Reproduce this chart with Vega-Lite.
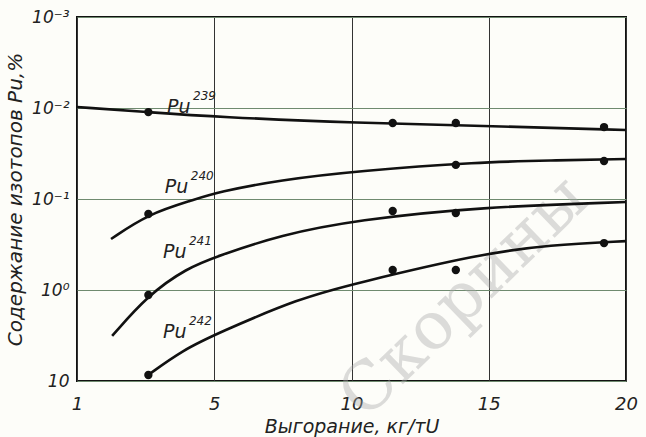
{
  "$schema": "https://vega.github.io/schema/vega-lite/v6.json",
  "width": 549,
  "height": 364,
  "autosize": "none",
  "padding": {"left": 77, "top": 17, "right": 20, "bottom": 56},
  "background": "#fdfdf9",
  "config": {
    "view": {"stroke": "#111", "strokeWidth": 2},
    "font": "DejaVu Sans"
  },
  "datasets": {
    "curves": [
      {"iso": "239", "burnup": 0, "value": 0.00975},
      {"iso": "239", "burnup": 2.59, "value": 0.0111},
      {"iso": "239", "burnup": 5.14, "value": 0.01256},
      {"iso": "239", "burnup": 10.2, "value": 0.01462},
      {"iso": "239", "burnup": 15.15, "value": 0.01578},
      {"iso": "239", "burnup": 20, "value": 0.01746},
      {"iso": "240", "burnup": 1.24, "value": 0.275},
      {"iso": "240", "burnup": 2.59, "value": 0.146},
      {"iso": "240", "burnup": 4.23, "value": 0.1026},
      {"iso": "240", "burnup": 5.14, "value": 0.0837},
      {"iso": "240", "burnup": 7.4, "value": 0.0618},
      {"iso": "240", "burnup": 10.2, "value": 0.0492},
      {"iso": "240", "burnup": 14.68, "value": 0.0392},
      {"iso": "240", "burnup": 17.23, "value": 0.0378},
      {"iso": "240", "burnup": 20, "value": 0.0363},
      {"iso": "241", "burnup": 1.28, "value": 3.2},
      {"iso": "241", "burnup": 2.59, "value": 1.135},
      {"iso": "241", "burnup": 4.01, "value": 0.573},
      {"iso": "241", "burnup": 5.14, "value": 0.423},
      {"iso": "241", "burnup": 7.4, "value": 0.249},
      {"iso": "241", "burnup": 10.2, "value": 0.17},
      {"iso": "241", "burnup": 14.68, "value": 0.1225},
      {"iso": "241", "burnup": 20, "value": 0.108},
      {"iso": "242", "burnup": 2.59, "value": 8.59},
      {"iso": "242", "burnup": 3.86, "value": 4.56},
      {"iso": "242", "burnup": 5.14, "value": 2.97},
      {"iso": "242", "burnup": 8.12, "value": 1.224},
      {"iso": "242", "burnup": 10.2, "value": 0.838},
      {"iso": "242", "burnup": 14.68, "value": 0.402},
      {"iso": "242", "burnup": 17.23, "value": 0.32},
      {"iso": "242", "burnup": 20, "value": 0.29}
    ],
    "points": [
      {"iso": "239", "burnup": 2.6, "value": 0.0111},
      {"iso": "239", "burnup": 11.5, "value": 0.0146},
      {"iso": "239", "burnup": 13.8, "value": 0.0146},
      {"iso": "239", "burnup": 19.2, "value": 0.0162},
      {"iso": "240", "burnup": 2.6, "value": 0.146},
      {"iso": "240", "burnup": 13.8, "value": 0.0422},
      {"iso": "240", "burnup": 19.2, "value": 0.0382},
      {"iso": "241", "burnup": 2.6, "value": 1.135},
      {"iso": "241", "burnup": 11.5, "value": 0.1355},
      {"iso": "241", "burnup": 13.8, "value": 0.1426},
      {"iso": "242", "burnup": 2.6, "value": 8.59},
      {"iso": "242", "burnup": 11.5, "value": 0.602},
      {"iso": "242", "burnup": 13.8, "value": 0.602},
      {"iso": "242", "burnup": 19.2, "value": 0.305}
    ],
    "labels": [
      {"name": "Pu", "sup": "239", "burnup": 3.28, "value": 0.00975},
      {"name": "Pu", "sup": "240", "burnup": 3.2, "value": 0.0738},
      {"name": "Pu", "sup": "241", "burnup": 3.13, "value": 0.382},
      {"name": "Pu", "sup": "242", "burnup": 3.13, "value": 2.9}
    ],
    "watermark": [
      {"text": "Скорины", "burnup": 14.1, "value": 1.2}
    ]
  },
  "encoding": {
    "x": {
      "field": "burnup",
      "type": "quantitative",
      "scale": {"domain": [0, 20], "nice": false, "zero": false},
      "axis": {
        "values": [0, 5, 10, 15, 20],
        "labelExpr": "datum.value == 0 ? '1' : datum.label",
        "title": "Выгорание, кг/тU",
        "titleFont": "DejaVu Sans",
        "titleFontStyle": "italic",
        "titleFontWeight": "normal",
        "titleFontSize": 19,
        "titleColor": "#222",
        "titlePadding": 4,
        "labelFont": "DejaVu Sans",
        "labelFontStyle": "italic",
        "labelFontSize": 18,
        "labelColor": "#222",
        "labelPadding": 14,
        "labelFlush": false,
        "domain": false,
        "ticks": false,
        "grid": true,
        "gridColor": "#333",
        "gridWidth": 1
      }
    },
    "y": {
      "field": "value",
      "type": "quantitative",
      "scale": {"type": "log", "domain": [0.001, 10], "reverse": true, "nice": false},
      "axis": {
        "values": [0.001, 0.01, 0.1, 1, 10],
        "labelExpr": "datum.value < 0.002 ? '10⁻³' : datum.value < 0.02 ? '10⁻²' : datum.value < 0.2 ? '10⁻¹' : datum.value < 2 ? '10⁰' : '10'",
        "title": "Содержание изотопов Pu,%",
        "titleFont": "DejaVu Sans",
        "titleFontStyle": "italic",
        "titleFontWeight": "normal",
        "titleFontSize": 20,
        "titleColor": "#222",
        "titlePadding": 6,
        "labelFont": "DejaVu Sans",
        "labelFontStyle": "italic",
        "labelFontSize": 17,
        "labelColor": "#222",
        "labelPadding": 8,
        "labelFlush": false,
        "domain": false,
        "ticks": false,
        "grid": true,
        "gridColor": "#6f8a6f",
        "gridWidth": 1.2
      }
    }
  },
  "layer": [
    {
      "data": {"name": "watermark"},
      "mark": {"type": "text", "font": "DejaVu Serif", "fontSize": 66, "angle": -44, "color": "#aaa", "opacity": 0.4, "clip": false},
      "encoding": {"text": {"field": "text"}}
    },
    {
      "data": {"name": "curves"},
      "mark": {"type": "line", "color": "#111", "strokeWidth": 2.6, "interpolate": "basis"},
      "encoding": {"detail": {"field": "iso"}}
    },
    {
      "data": {"name": "points"},
      "mark": {"type": "point", "filled": true, "color": "#111", "opacity": 1, "size": 70}
    },
    {
      "data": {"name": "labels"},
      "mark": {"type": "text", "align": "left", "baseline": "middle", "font": "DejaVu Sans", "fontStyle": "italic", "fontSize": 19, "color": "#222"},
      "encoding": {"text": {"field": "name"}}
    },
    {
      "data": {"name": "labels"},
      "mark": {"type": "text", "align": "left", "baseline": "middle", "font": "DejaVu Sans", "fontStyle": "italic", "fontSize": 12, "color": "#222", "dx": 26, "dy": -11},
      "encoding": {"text": {"field": "sup"}}
    }
  ]
}
